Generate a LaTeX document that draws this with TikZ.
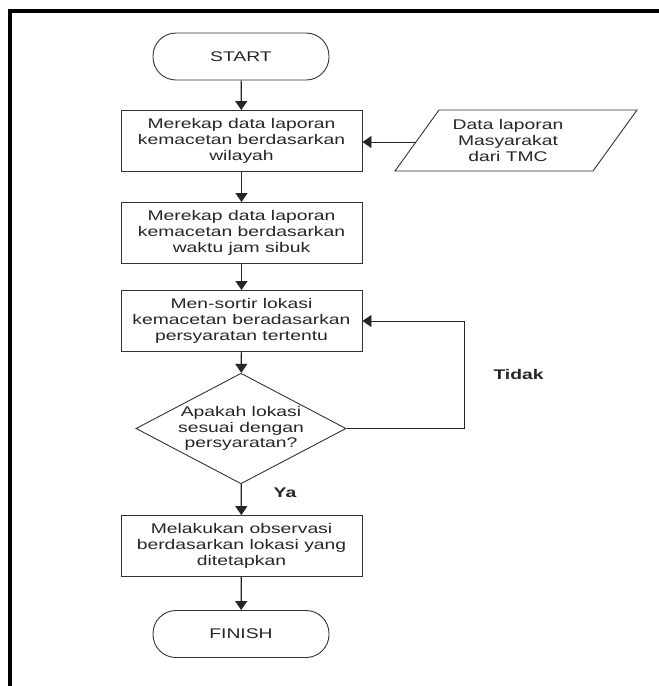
\documentclass[tikz,border=0pt]{standalone}
\usepackage{fontspec}
\setmainfont{Liberation Sans}[FakeStretch=1.38]
\usetikzlibrary{arrows.meta,shapes.geometric,calc}

\begin{document}
\begin{tikzpicture}[x=1pt,y=-1pt,
  every node/.style={font=\fontsize{14}{15.7}\selectfont, align=center, text=black!85},
  process/.style={draw=black!80, line width=0.9pt, rectangle, minimum width=241pt, minimum height=61pt, inner sep=0pt},
  terminal/.style={draw=black!80, line width=0.9pt, rectangle, rounded corners=23pt, minimum width=176pt, minimum height=47pt, inner sep=0pt},
  decision/.style={draw=black!80, line width=0.9pt, diamond, aspect=1.9, minimum width=208pt, minimum height=109pt, inner sep=0pt},
  flow/.style={draw=black!85, line width=1.2pt, -{Triangle[length=9pt,width=12pt]}},
  feed/.style={draw=black!85, line width=0.8pt, -{Triangle[length=9pt,width=12pt]}},
  answer/.style={font=\bfseries\fontsize{14}{16}\selectfont},
]
\useasboundingbox (0,0) rectangle (659,686);
\fill[white] (0,0) rectangle (659,686);

% page frame
\draw[line width=4pt] (10,686) -- (10,11) -- (659,11);

% main column
\node[terminal] (start) at (241,56.5) {START};
\node[process] (rekap1) at (241.5,141) {Merekap data laporan\\kemacetan berdasarkan\\wilayah};
\node[process] (rekap2) at (241.5,233) {Merekap data laporan\\kemacetan berdasarkan\\waktu jam sibuk};
\node[process] (sortir) at (241.5,321) {Men-sortir lokasi\\kemacetan beradasarkan\\persyaratan tertentu};
\node[decision] (cek) at (241,428.5) {Apakah lokasi\\sesuai dengan\\persyaratan?};
\node[process] (observasi) at (241.5,546) {Melakukan observasi\\berdasarkan lokasi yang\\ditetapkan};
\node[terminal] (finish) at (241,634) {FINISH};

% input data (parallelogram)
\coordinate (dBL) at (395,171);
\coordinate (dTL) at (439,110);
\coordinate (dTR) at (637,110);
\coordinate (dBR) at (593,171);
\draw[draw=black!80, line width=0.9pt] (dBL) -- (dTL) -- (dTR) -- (dBR) -- cycle;
\node[inner sep=0pt] (data) at (508,140.5) {Data laporan\\Masyarakat\\dari TMC};
\coordinate (datain) at ($(dBL)!0.475!(dTL)$);

% connectors
\draw[flow] (start) -- (rekap1);
\draw[feed] (datain) -- (datain -| rekap1.east);
\draw[flow] (rekap1) -- (rekap2);
\draw[flow] (rekap2) -- (sortir);
\draw[flow] (sortir) -- (cek);
\draw[flow] (cek) -- (observasi);
\draw[flow] (observasi) -- (finish);
\coordinate (loopc) at (464,428.5);
\draw[feed] (cek.east) -- (loopc) |- (sortir.east);

\node[answer, anchor=west] (tidak) at (490,374) {Tidak};
\node[answer] (ya) at (285,493) {Ya};
\end{tikzpicture}
\end{document}
